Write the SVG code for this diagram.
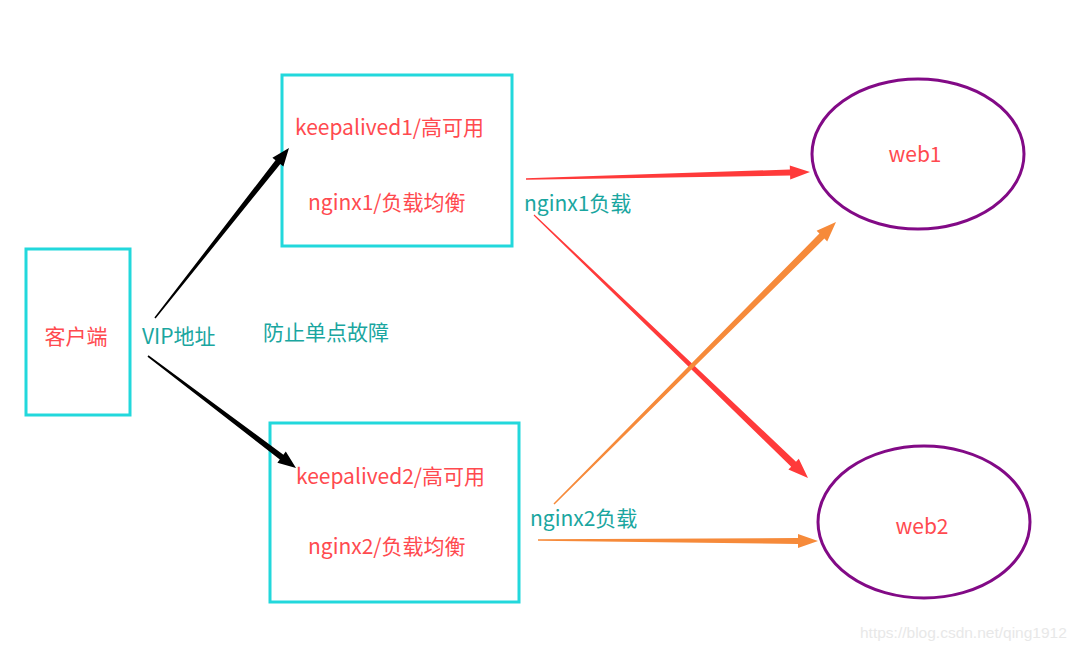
<svg xmlns="http://www.w3.org/2000/svg" width="1080" height="651" viewBox="0 0 1080 651">
<style>
.box{fill:none;stroke:#22d8dc;stroke-width:3}
.web{fill:none;stroke:#820a86;stroke-width:3}
.red{fill:#ff4a4f;font-family:"Noto Sans CJK SC","Microsoft YaHei",sans-serif;font-size:21px}
.teal{fill:#1aa6a0;font-family:"Noto Sans CJK SC","Microsoft YaHei",sans-serif;font-size:21px}
.wm{fill:#e8e8e8;font-family:"Liberation Sans",Arial,sans-serif;font-size:15.5px}
.blk{fill:#000}
.ra{fill:#ff3a3a}
.oa{fill:#f68a3a}
</style>
<rect width="1080" height="651" fill="#fff"/>
<g id="client">
<rect class="box" x="26" y="249" width="104" height="166"/>
<text class="red" x="76" y="344" text-anchor="middle">客户端</text>
</g>
<g id="node1">
<rect class="box" x="282" y="75" width="230" height="171"/>
<text class="red" x="295" y="135">keepalived1/高可用</text>
<text class="red" x="308" y="210">nginx1/负载均衡</text>
</g>
<g id="node2">
<rect class="box" x="270" y="423" width="249" height="179"/>
<text class="red" x="296" y="484">keepalived2/高可用</text>
<text class="red" x="308" y="554">nginx2/负载均衡</text>
</g>
<g id="web1">
<ellipse class="web" cx="918" cy="154" rx="106" ry="75"/>
<text class="red" x="915" y="162" text-anchor="middle">web1</text>
</g>
<g id="web2">
<ellipse class="web" cx="924" cy="522" rx="106" ry="76"/>
<text class="red" x="922" y="534" text-anchor="middle">web2</text>
</g>
<g id="connectors">
<polygon class="blk" points="155.6,318.5 280.3,164.0 283.4,166.4 289,148 272.4,157.8 275.5,160.2 154.4,317.5"/>
<polygon class="blk" points="147.5,356.8 279.8,459.5 277.4,462.7 296,468 285.8,451.5 283.4,454.7 148.5,355.2"/>
<polygon class="ra" points="526,179.8 790.1,175.5 790.2,179.5 810,172 789.8,165.5 789.9,169.5 526,178.2"/>
<polygon class="ra" points="533.6,215.5 791.2,466.7 788.4,469.6 808,478 798.8,458.8 796.0,461.7 534.4,214.5"/>
<polygon class="oa" points="554.5,504.5 824.4,238.6 827.2,241.4 836,222 816.6,230.8 819.4,233.6 553.5,503.5"/>
<polygon class="oa" points="538,540.8 798,543.9 798,548 818,541 798,534 798,538 538,539.2"/>
<text class="teal" x="142" y="344">VIP地址</text>
<text class="teal" x="524" y="211">nginx1负载</text>
<text class="teal" x="530" y="526">nginx2负载</text>
</g>
<text class="teal" x="263" y="340">防止单点故障</text>
<text class="wm" x="860" y="638">https://blog.csdn.net/qing1912</text>
</svg>
